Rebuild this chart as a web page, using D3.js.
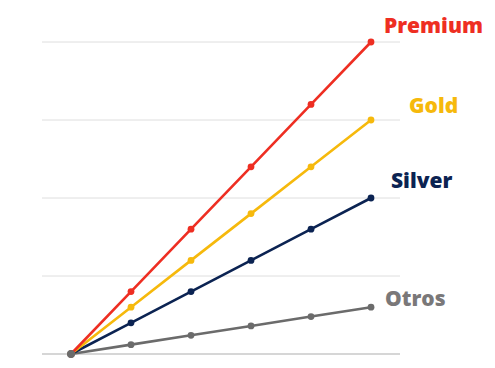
<!DOCTYPE html>
<html lang="es">
<head>
<meta charset="UTF-8" />
<title>Planes</title>
<script src="https://cdn.jsdelivr.net/npm/d3@7"></script>
<style>
  html, body { margin: 0; background: #fff; }
  body { font-family: 'Open Sans', sans-serif; }
</style>
</head>
<body>
<div id="chart"></div>
<script>
const steps = [0, 1, 2, 3, 4, 5];
const premium = [0, 0.8, 1.6, 2.4, 3.2, 4.0];
const gold = [0, 0.6, 1.2, 1.8, 2.4, 3.0];
const silver = [0, 0.4, 0.8, 1.2, 1.6, 2.0];
const otros = [0, 0.12, 0.24, 0.36, 0.48, 0.6];
const gridTicks = [0, 1, 2, 3, 4];

const series = [
  { name: "Premium", values: premium, color: "#ee2e22", labelColor: "#ee2e22", dx: 13, dy: -17 },
  { name: "Gold", values: gold, color: "#f6b90c", labelColor: "#f6b90c", dx: 38, dy: -15 },
  { name: "Silver", values: silver, color: "#0b2352", labelColor: "#0b2352", dx: 20, dy: -18 },
  { name: "Otros", values: otros, color: "#6b6b6b", labelColor: "#7a7879", dx: 14, dy: -9 }
];

const width = 495, height = 368;
const svg = d3.select("#chart").append("svg")
  .attr("width", width)
  .attr("height", height);

const x = d3.scaleLinear().domain([0, 5]).range([71, 371]);
const y = d3.scaleLinear().domain([0, 4]).range([354, 42]);

// grid
svg.append("g")
  .selectAll("line")
  .data(gridTicks)
  .join("line")
  .attr("x1", 42)
  .attr("x2", 400)
  .attr("y1", d => y(d))
  .attr("y2", d => y(d))
  .attr("stroke", d => d === 0 ? "#c8c8c8" : "#dedede")
  .attr("stroke-width", d => d === 0 ? 1.5 : 1);

const line = d3.line()
  .x((d, i) => x(steps[i]))
  .y(d => y(d));

// draw lower series first so premium sits on top
const order = series.slice().reverse();

order.forEach(s => {
  const g = svg.append("g");
  g.append("path")
    .datum(s.values)
    .attr("fill", "none")
    .attr("stroke", s.color)
    .attr("stroke-width", 2.6)
    .attr("d", line);
  g.selectAll("circle")
    .data(s.values)
    .join("circle")
    .attr("cx", (d, i) => x(steps[i]))
    .attr("cy", d => y(d))
    .attr("r", 3.4)
    .attr("fill", s.color);
});

// shared origin point
svg.append("circle")
  .attr("cx", x(0))
  .attr("cy", y(0))
  .attr("r", 4)
  .attr("fill", "#6b6b6b");

svg.selectAll("text.lbl")
  .data(series)
  .join("text")
  .attr("class", "lbl")
  .attr("x", d => x(5) + d.dx)
  .attr("y", d => y(d.values[5]) + d.dy)
  .attr("dominant-baseline", "central")
  .attr("font-family", "'Open Sans', sans-serif")
  .attr("font-weight", 800)
  .attr("font-size", 21)
  .attr("fill", d => d.labelColor)
  .text(d => d.name);
</script>
</body>
</html>
